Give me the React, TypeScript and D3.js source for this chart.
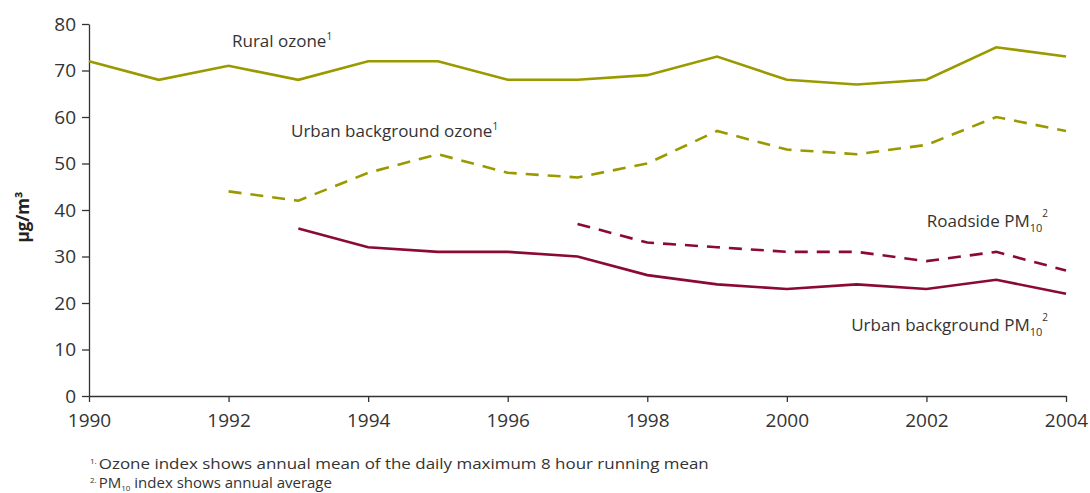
import * as d3 from 'd3'
import { useEffect, useRef } from 'react';

const years = d3.range(1990, 2005);
const ruralOzone = [72, 68, 71, 68, 72, 72, 68, 68, 69, 73, 68, 67, 68, 75, 73];
const urbanOzone = [null, null, 44, 42, 48, 52, 48, 47, 50, 57, 53, 52, 54, 60, 57];
const urbanPM10 = [null, null, null, 36, 32, 31, 31, 30, 26, 24, 23, 24, 23, 25, 22];
const roadsidePM10 = [null, null, null, null, null, null, null, 37, 33, 32, 31, 31, 29, 31, 27];
const xTicks = [1990, 1992, 1994, 1996, 1998, 2000, 2002, 2004];
const yTicks = [0, 10, 20, 30, 40, 50, 60, 70, 80];

const OLIVE = '#9a9a00';
const WINE = '#8a0a32';
const TEXT = '#333';

function makeChart(svgEl: SVGSVGElement) {
    const svg = d3.select(svgEl);
    svg.selectAll('*').remove();
    const font = '"Open Sans", "Noto Sans", sans-serif';

    const x = d3.scaleLinear().domain([1990, 2004]).range([89, 1066]);
    const y = d3.scaleLinear().domain([0, 80]).range([396, 24]);

    // axes
    const gx = svg.append('g').attr('transform', 'translate(0,396)')
        .call(d3.axisBottom(x).tickValues(xTicks).tickFormat(d3.format('d')).tickSize(6).tickPadding(12).tickSizeOuter(0));
    const gy = svg.append('g').attr('transform', 'translate(89,0)')
        .call(d3.axisLeft(y).tickValues(yTicks).tickSize(7).tickPadding(6).tickSizeOuter(0));
    [gx, gy].forEach(g => {
        g.select('.domain').attr('stroke', TEXT).attr('stroke-width', 1.3);
        g.selectAll('.tick line').attr('stroke', TEXT).attr('stroke-width', 1.3);
        g.selectAll('text').attr('font-family', font).attr('font-size', 19).attr('fill', TEXT);
    });

    // series
    const series = [
        { vals: ruralOzone, color: OLIVE, dash: null },
        { vals: urbanOzone, color: OLIVE, dash: '13,9' },
        { vals: urbanPM10, color: WINE, dash: null },
        { vals: roadsidePM10, color: WINE, dash: '13,9' },
    ];
    const line = d3.line<[number, number | null]>()
        .defined(d => d[1] != null)
        .x(d => x(d[0]))
        .y(d => y(d[1] as number));
    series.forEach(s => {
        svg.append('path')
            .datum(years.map((yr, i) => [yr, s.vals[i]] as [number, number | null]))
            .attr('d', line)
            .attr('fill', 'none')
            .attr('stroke', s.color)
            .attr('stroke-width', 2.6)
            .attr('stroke-dasharray', s.dash)
            .attr('stroke-linejoin', 'miter');
    });

    // labels
    const label = (tx: number, ty: number, main: string, sub: string | null, sup: string, anchor = 'start') => {
        const t = svg.append('text').attr('x', tx).attr('y', ty)
            .attr('font-family', font).attr('font-size', 17).attr('fill', TEXT).attr('text-anchor', anchor);
        t.append('tspan').text(main);
        if (sub) t.append('tspan').attr('font-size', 11).attr('dy', 5).text(sub);
        t.append('tspan').attr('font-size', 10).attr('dy', sub ? -15 : -7).text(sup);
    };
    label(232, 47, 'Rural ozone', null, '1');
    label(291, 137, 'Urban background ozone', null, '1');
    label(1048, 227, 'Roadside PM', '10', '2', 'end');
    label(1048, 331, 'Urban background PM', '10', '2', 'end');

    // y title
    svg.append('text')
        .attr('transform', 'translate(29,217) rotate(-90)')
        .attr('text-anchor', 'middle')
        .attr('font-family', font).attr('font-size', 17).attr('font-weight', 'bold').attr('fill', '#222')
        .text('µg/m³');

    // footnotes
    const fn1 = svg.append('text').attr('x', 90).attr('y', 469)
        .attr('font-family', font).attr('font-size', 15).attr('fill', TEXT);
    fn1.append('tspan').attr('font-size', 8).attr('dy', -5).text('1. ');
    fn1.append('tspan').attr('dy', 5).attr('textLength', 610).attr('lengthAdjust', 'spacingAndGlyphs')
        .text('Ozone index shows annual mean of the daily maximum 8 hour running mean');
    const fn2 = svg.append('text').attr('x', 90).attr('y', 488)
        .attr('font-family', font).attr('font-size', 15).attr('fill', TEXT);
    fn2.append('tspan').attr('font-size', 8).attr('dy', -5).text('2. ');
    fn2.append('tspan').attr('dy', 5).text('PM');
    fn2.append('tspan').attr('font-size', 8).attr('dy', 3).text('10');
    fn2.append('tspan').attr('dy', -3).text(' index shows annual average');
}

function App() {
    const ref = useRef<SVGSVGElement>(null);
    useEffect(() => {
        if (ref.current) makeChart(ref.current);
    });

    return (
        <svg ref={ref} width={1090} height={493}
            style={{ position: 'absolute', left: 0, top: 0, background: '#fff' }}>
        </svg>
    );
}

export default App;
